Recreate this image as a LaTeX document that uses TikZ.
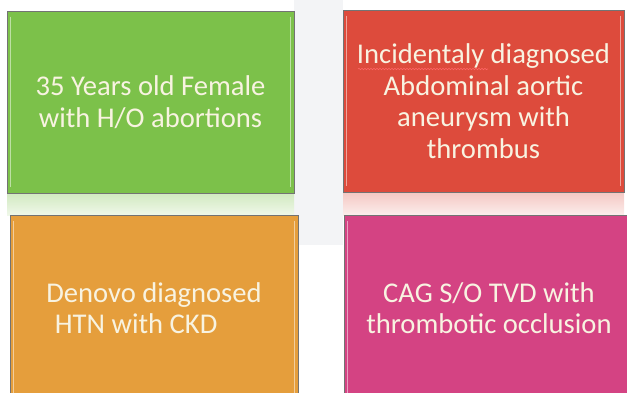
\documentclass[tikz,border=0pt]{standalone}
\usepackage{fontspec}
\setmainfont{Carlito}
\usepackage{xcolor}
\usetikzlibrary{positioning,decorations.pathmorphing}
\definecolor{grn}{RGB}{124,193,74}
\definecolor{rd}{RGB}{221,75,60}
\definecolor{orng}{RGB}{229,158,60}
\definecolor{pnk}{RGB}{212,67,131}
\definecolor{cream}{RGB}{248,243,225}
\definecolor{bgray}{RGB}{243,244,246}

\begin{document}
\begin{tikzpicture}[x=1pt,y=-1pt,
  box/.style={draw=black!55,line width=0.9pt,inner sep=0pt,text=cream,
    font=\fontsize{28.6}{31.5}\selectfont,align=center},
  gloss/.style={white,opacity=0.5,line width=1.3pt}]
\useasboundingbox (0,0) rectangle (627,392);
\clip (0,0) rectangle (627,392);
% faint backdrop and reflections
\fill[bgray] (294,0) rectangle (343,245);
\shade[top color=grn!35,bottom color=grn!12] (7,193) rectangle (294,215);
\shade[top color=rd!30,bottom color=rd!10] (343,193) rectangle (624,215);
% the four boxes
\node[box,fill=grn,minimum width=287pt,minimum height=182pt] (age) at (150.5,102)
  {35 Years old Female\\with H/O abortions};
\node[box,fill=rd,minimum width=281pt,minimum height=182pt] (aaa) at (483.5,101)
  {Incidentaly diagnosed\\Abdominal aortic\\aneurysm with\\thrombus};
\node[box,fill=orng,minimum width=288pt,minimum height=186pt,align=left] (htn) at (154,308)
  {Denovo diagnosed\\\hspace*{0.3em}HTN with CKD};
\node[box,fill=pnk,minimum width=290pt,minimum height=186pt] (cag) at (489,308)
  {CAG S/O TVD with\\thrombotic occlusion};
% glossy edges
\foreach \b in {age,aaa,htn,cag}{
  \draw[gloss] ([xshift=4pt,yshift=-6pt]\b.north west) -- ([xshift=4pt,yshift=6pt]\b.south west);
  \draw[gloss] ([xshift=-4pt,yshift=-6pt]\b.north east) -- ([xshift=-4pt,yshift=6pt]\b.south east);
}
% spell-check squiggle
\draw[red!60!white,line width=0.6pt,decorate,decoration={snake,amplitude=0.7pt,segment length=3pt}]
  (358,69) -- (488,69);
\end{tikzpicture}
\end{document}
